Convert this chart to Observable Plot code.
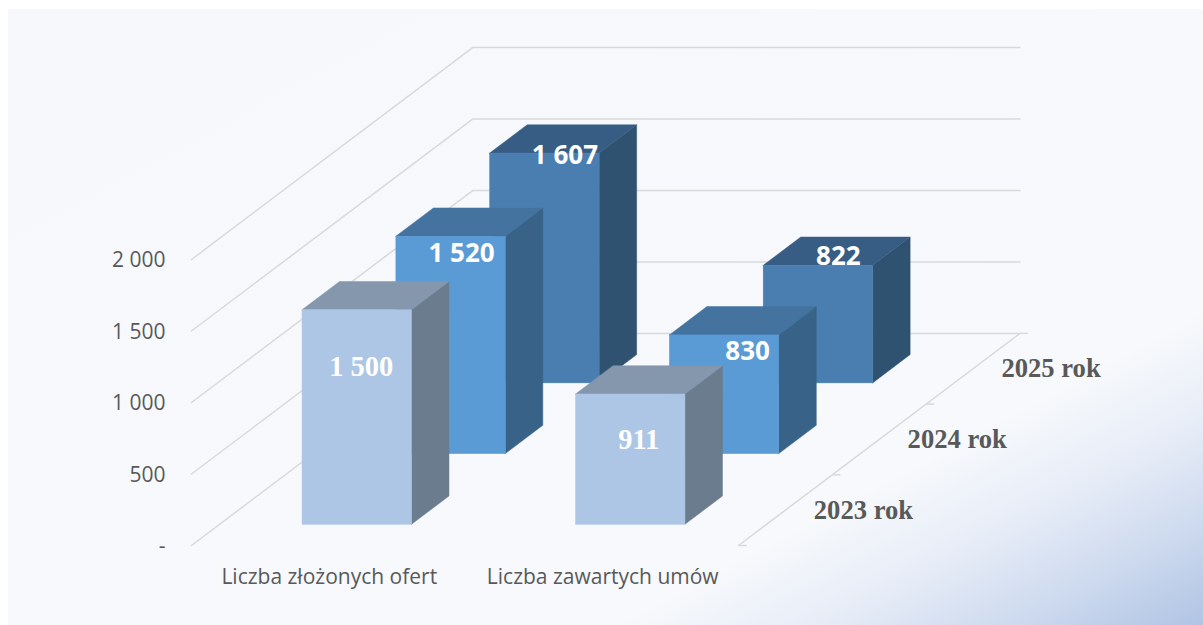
<!DOCTYPE html>
<html lang="pl">
<head>
<meta charset="utf-8">
<style>
  html, body { margin: 0; padding: 0; background: #fff; width: 1203px; height: 625px; overflow: hidden; }
  #panel { position: absolute; left: 8px; top: 9px; width: 1195px; height: 616px;
    background: linear-gradient(152deg, #f6f8fc 0%, #f7f9fc 75%, #e6ecf7 84%, #cbd8ee 92.5%, #b0c4e4 100%); }
  #chart { position: absolute; left: 0; top: 0; }
</style>
<script src="https://cdn.jsdelivr.net/npm/d3@7"></script>
<script src="https://cdn.jsdelivr.net/npm/@observablehq/plot@0.6"></script>
</head>
<body>
<div id="panel"></div>
<div id="chart"></div>
<script>
const categories = ["Liczba złożonych ofert", "Liczba zawartych umów"];
const years = ["2023 rok", "2024 rok", "2025 rok"];
const ofertyValues = [1500, 1520, 1607];
const umowyValues = [911, 830, 822];
const seriesValues = [ofertyValues, umowyValues];
const tickValues = [0, 500, 1000, 1500, 2000];
const tickLabels = ["-", "500", "1 000", "1 500", "2 000"];
const valueLabels = [["1 500", "1 520", "1 607"], ["911", "830", "822"]];

// oblique projection: category c, depth z (series slots), value v -> scale units
const WIDTH = 1203, HEIGHT = 625;
const originX = 191, originY = 545, catPx = 273.5, pxPerValue = 0.143;
const depthX = 93.83 / catPx, depthY = 70.7 / pxPerValue;
const px = (c, z) => c + z * depthX;
const py = (v, z) => v + z * depthY;

// per-series face colours [front, top, side]
const faces = [
  ["#adc6e5", "#8497ad", "#6c7c8f"],
  ["#5b9bd5", "#44739f", "#386287"],
  ["#4a7eb0", "#385d84", "#2e526f"]
];
const labelOffsets = [
  [[4, 57], [10.5, 17], [20, 2.5]],
  [[8, 45.5], [23, 16], [20, -9]]
];
const textGray = "#595959", gridGray = "#d9d9d9", sans = "'Open Sans', sans-serif", serif = "'Liberation Serif', serif";

const marks = [];

// walls and floor edge
const wallRows = tickValues.flatMap(v => [
  {v, x: px(0, 0), y: py(v, 0)},
  {v, x: px(0, 3), y: py(v, 3)},
  {v, x: px(2, 3), y: py(v, 3)}
]);
marks.push(Plot.line(wallRows, {x: "x", y: "y", z: "v", stroke: gridGray, strokeWidth: 1.5}));
marks.push(Plot.line([0, 3], {x: z => px(2, z), y: z => py(0, z), stroke: gridGray, strokeWidth: 1.5}));
// depth-axis ticks
marks.push(Plot.link([0, 1, 2, 3], {
  x1: z => px(2, z), x2: z => px(2, z) + 8 / catPx,
  y1: z => py(0, z), y2: z => py(0, z),
  stroke: gridGray, strokeWidth: 1.5
}));

// bars, back to front
const barW = 0.4, barStart = 0.3055, zStart = 0.293, zDepth = 0.4;
[2, 1, 0].forEach(s => {
  const rows = categories.map((name, c) => {
    const v = seriesValues[c][s];
    const z0 = s + zStart, z1 = z0 + zDepth, c0 = c + barStart, c1 = c0 + barW;
    return {v, c0, c1, z0, z1};
  });
  const [front, top, side] = faces[s];
  rows.forEach(r => {
    marks.push(Plot.areaY([r.z0, r.z1], {
      x: z => px(r.c1, z), y1: z => py(0, z), y2: z => py(r.v, z),
      fill: side, stroke: side, strokeWidth: 0.5
    }));
    marks.push(Plot.areaX([r.z0, r.z1], {
      y: z => py(r.v, z), x1: z => px(r.c0, z), x2: z => px(r.c1, z),
      fill: top, stroke: top, strokeWidth: 0.5
    }));
    marks.push(Plot.rect([r], {
      x1: d => px(d.c0, d.z0), x2: d => px(d.c1, d.z0),
      y1: d => py(0, d.z0), y2: d => py(d.v, d.z0),
      fill: front, stroke: front, strokeWidth: 0.5
    }));
  });
});

// value labels
categories.forEach((name, c) => {
  years.forEach((yr, s) => {
    const v = seriesValues[c][s];
    const [dx, dy] = labelOffsets[c][s];
    marks.push(Plot.text([valueLabels[c][s]], {
      x: () => px(c + barStart + barW / 2, s + zStart),
      y: () => py(v, s + zStart),
      text: d => d, dx, dy,
      fill: "#fff", fontWeight: "bold",
      fontFamily: s === 0 ? serif : sans,
      fontSize: s === 0 ? 28.5 : 26
    }));
  });
});

// value axis
marks.push(Plot.text(tickValues, {
  x: () => px(0, 0), y: v => py(v, 0), text: (v, i) => tickLabels[i],
  dx: -26, dy: 1, textAnchor: "end", fill: textGray, fontFamily: sans, fontSize: 21
}));
// category axis
marks.push(Plot.text(categories, {
  x: (d, i) => px(i + 0.5, 0), y: () => py(0, 0), text: d => d,
  dx: 1, dy: 32, fill: textGray, fontFamily: sans, fontSize: 21
}));
// depth axis
marks.push(Plot.text(years, {
  x: (d, i) => px(2, i + 0.5), y: (d, i) => py(0, i + 0.5), text: d => d,
  dx: 78, fill: textGray, fontFamily: serif, fontWeight: "bold", fontSize: 26.6
}));

const chart = Plot.plot({
  width: WIDTH, height: HEIGHT,
  margin: 0,
  style: {background: "transparent"},
  x: {axis: null, domain: [-originX / catPx, (WIDTH - originX) / catPx], range: [0, WIDTH]},
  y: {axis: null, domain: [(originY - HEIGHT) / pxPerValue, originY / pxPerValue], range: [HEIGHT, 0]},
  marks
});
document.getElementById("chart").appendChild(chart);
</script>
</body>
</html>
